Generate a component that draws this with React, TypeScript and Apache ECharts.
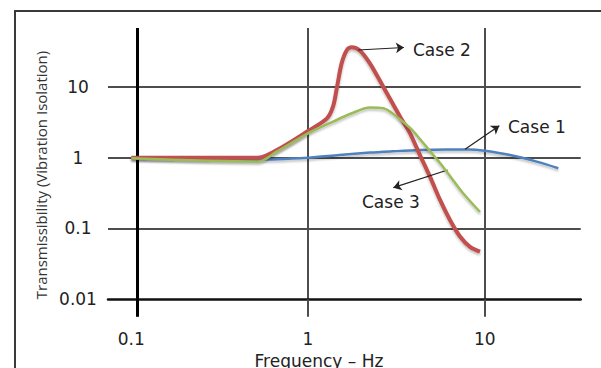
import React, { useEffect, useRef } from 'react';
import * as echarts from 'echarts';

// Axis ticks / labels (raw values, log scale)
const xTickValues = [0.1, 1, 10];
const xTickLabels = ['0.1', '1', '10'];
const xGridValues = [1, 10];
const yTickValues = [0.01, 0.1, 1, 10];
const yTickLabels = ['0.01', '0.1', '1', '10'];
const yGridValues = [0.1, 1, 10];
const yAxisCrossFreq = 0.1087;
const xRange = [0.0738, 34.94];
const yRange = [0.01, 67.9];

// Case 1 (blue)
const case1Freq = [0.1, 0.52, 1.0, 1.5, 2.24, 3.0, 4.3, 6.0, 8.26, 10, 13.9, 19.7, 26.1];
const case1Value = [1.0, 0.94, 1.0, 1.09, 1.18, 1.23, 1.285, 1.31, 1.31, 1.25, 1.09, 0.88, 0.71];

// Case 2 (red)
const case2Freq = [0.1, 0.52, 0.72, 1.0, 1.28, 1.385, 1.46, 1.55, 1.66, 1.77, 1.97, 2.24, 2.67, 3.32, 3.78, 4.3, 4.9, 5.59, 6.36, 7.25, 8.26, 9.41];
const case2Value = [1.0, 1.0, 1.43, 2.38, 3.6, 5.25, 10, 21.5, 33.2, 36.3, 32.5, 21.5, 10, 3.8, 2.21, 1.09, 0.54, 0.253, 0.132, 0.077, 0.055, 0.047];

// Case 3 (green)
const case3Freq = [0.1, 0.52, 0.665, 1.0, 1.385, 1.77, 2.24, 2.67, 3.18, 3.78, 4.3, 4.9, 5.585, 6.36, 7.53, 9.41];
const case3Value = [0.98, 0.88, 1.215, 2.21, 3.23, 4.24, 5.1, 5.0, 3.8, 2.63, 1.84, 1.24, 0.842, 0.551, 0.317, 0.171];

// Annotation arrows: [fromFreq, fromValue, toFreq, toValue]
const arrowCase1 = [7.74, 1.314, 12.1, 2.83];
const arrowCase2 = [1.92, 33.2, 3.49, 36.0];
const arrowCase3 = [6.17, 0.67, 3.04, 0.377];

const lg = (v: number) => Math.log10(v);

const App: React.FC = () => {
  const ref = useRef<HTMLDivElement>(null);
  useEffect(() => {
    if (!ref.current) return;
    const chart = echarts.init(ref.current, undefined, { renderer: 'svg' });
    const toPts = (f: number[], v: number[]) => f.map((x, i) => [lg(x), lg(v[i])]);
    const labelFor = (vals: number[], labels: string[]) => (v: number) => {
      const i = vals.findIndex((t) => Math.abs(lg(t) - v) < 1e-6);
      return i >= 0 ? labels[i] : '';
    };
    const arrow = (a: number[]) => [
      { coord: [lg(a[0]), lg(a[1])], symbol: 'none' },
      { coord: [lg(a[2]), lg(a[3])], symbol: 'arrow' },
    ];
    const gridColor = '#4d4d4d';
    const shadow = { shadowColor: 'rgba(0,0,0,0.25)', shadowBlur: 2, shadowOffsetY: 2 };
    const font = 'DejaVu Sans';

    chart.setOption({
      animation: false,
      backgroundColor: '#ffffff',
      textStyle: { fontFamily: font },
      grid: { left: 108, right: 20.3, top: 28, bottom: 68.7, containLabel: false },
      xAxis: [
        {
          type: 'value',
          position: 'bottom',
          min: lg(xRange[0]),
          max: lg(xRange[1]),
          axisLine: { show: true, onZero: false, lineStyle: { color: '#111', width: 2.5 } },
          axisTick: {
            show: true,
            inside: false,
            length: 17.5,
            customValues: xGridValues.map(lg),
            lineStyle: { color: gridColor, width: 2 },
          },
          splitLine: { show: true, lineStyle: { color: gridColor, width: 2 } },
          axisLabel: {
            show: true,
            customValues: xTickValues.map(lg),
            formatter: labelFor(xTickValues, xTickLabels),
            margin: 31,
            color: '#222',
            fontSize: 17,
            fontFamily: font,
          },
        },
        {
          type: 'value',
          position: 'bottom',
          min: lg(xRange[0]),
          max: lg(xRange[1]),
          axisLine: { show: false, onZero: false },
          axisTick: {
            show: true,
            inside: false,
            length: 17.5,
            customValues: [lg(yAxisCrossFreq)],
            lineStyle: { color: '#000', width: 3 },
          },
          splitLine: { show: true, lineStyle: { color: '#000', width: 3 } },
          axisLabel: { show: false },
        },
      ],
      yAxis: {
        type: 'value',
        min: lg(yRange[0]),
        max: lg(yRange[1]),
        axisLine: { show: false },
        axisTick: { show: false, customValues: yGridValues.map(lg) },
        splitLine: { show: true, lineStyle: { color: gridColor, width: 2 } },
        axisLabel: {
          show: true,
          customValues: yTickValues.map(lg),
          formatter: labelFor(yTickValues, yTickLabels),
          align: 'center',
          margin: 30,
          color: '#222',
          fontSize: 17,
          fontFamily: font,
        },
      },
      series: [
        {
          name: 'Case 1',
          type: 'line',
          data: toPts(case1Freq, case1Value),
          smooth: 0.3,
          showSymbol: false,
          symbol: 'none',
          lineStyle: { color: '#4f81bd', width: 2.5, ...shadow },
          z: 3,
          markLine: {
            silent: true,
            symbolSize: 8,
            label: { show: false },
            lineStyle: { color: '#222', width: 1.2, type: 'solid' },
            data: [arrow(arrowCase1), arrow(arrowCase2), arrow(arrowCase3)],
          },
        },
        {
          name: 'Case 2',
          type: 'line',
          data: toPts(case2Freq, case2Value),
          smooth: 0.3,
          showSymbol: false,
          symbol: 'none',
          lineStyle: { color: '#c0504d', width: 4, ...shadow },
          z: 4,
        },
        {
          name: 'Case 3',
          type: 'line',
          data: toPts(case3Freq, case3Value),
          smooth: 0.3,
          showSymbol: false,
          symbol: 'none',
          lineStyle: { color: '#9bbb59', width: 2.5, ...shadow },
          z: 5,
        },
      ],
      graphic: [
        {
          type: 'rect',
          silent: true,
          z: -10,
          shape: { x: 15, y: 11, width: 900, height: 700 },
          style: { fill: 'none', stroke: '#3a3a3a', lineWidth: 2 },
        },
        {
          type: 'text',
          x: 41,
          y: 175,
          rotation: Math.PI / 2,
          style: {
            text: 'Transmissibility (Vibration Isolation)',
            font: '15px "Open Sans"',
            fill: '#333',
            align: 'center',
            verticalAlign: 'middle',
          },
        },
        {
          type: 'text',
          x: 319,
          y: 361,
          style: {
            text: 'Frequency – Hz',
            font: '17px "DejaVu Sans"',
            fill: '#222',
            align: 'center',
            verticalAlign: 'middle',
          },
        },
        {
          type: 'text',
          x: 413,
          y: 49.5,
          style: { text: 'Case 2', font: '17px "DejaVu Sans"', fill: '#222', align: 'left', verticalAlign: 'middle' },
        },
        {
          type: 'text',
          x: 508,
          y: 126.5,
          style: { text: 'Case 1', font: '17px "DejaVu Sans"', fill: '#222', align: 'left', verticalAlign: 'middle' },
        },
        {
          type: 'text',
          x: 362,
          y: 202,
          style: { text: 'Case 3', font: '17px "DejaVu Sans"', fill: '#222', align: 'left', verticalAlign: 'middle' },
        },
      ],
    });
    return () => chart.dispose();
  }, []);
  return (
    <div
      ref={ref}
      style={{ position: 'fixed', left: 0, top: 0, width: 601, height: 368, background: '#fff' }}
    />
  );
};

export default App;
